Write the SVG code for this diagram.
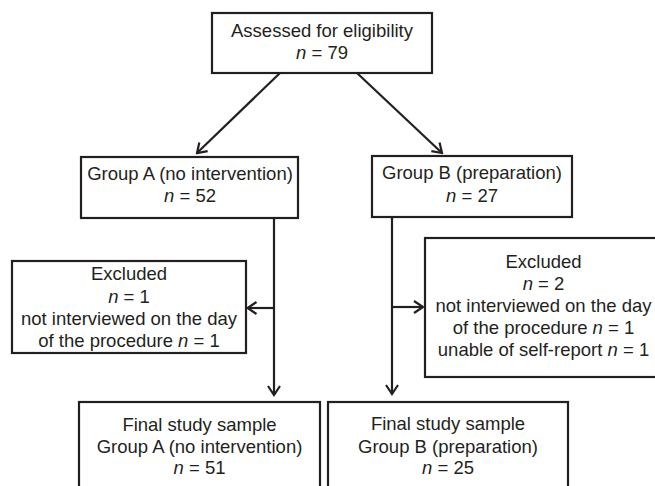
<svg xmlns="http://www.w3.org/2000/svg" width="655" height="486" viewBox="0 0 655 486">
<defs>
<style>
.box{fill:#fff;stroke:#231f20;stroke-width:2.2}
.t{font-family:"Liberation Sans",Arial,sans-serif;font-size:18.5px;fill:#231f20;text-anchor:middle}
.i{font-style:italic}
.c{stroke:#231f20;stroke-width:2.2;fill:none}
</style>
<marker id="ah" viewBox="-11 -8 13 16" refX="0" refY="0" markerWidth="13" markerHeight="16" markerUnits="userSpaceOnUse" orient="auto">
<path d="M-9,-6 L0,0 L-9,6" fill="none" stroke="#231f20" stroke-width="2.2"/>
</marker>
</defs>
<rect width="655" height="486" fill="#fff"/>
<g id="connectors">
<line class="c" x1="280" y1="73" x2="197" y2="153" marker-end="url(#ah)"/>
<line class="c" x1="357" y1="73" x2="442" y2="153" marker-end="url(#ah)"/>
<line class="c" x1="274" y1="218" x2="274" y2="395" marker-end="url(#ah)"/>
<line class="c" x1="274" y1="308" x2="247.5" y2="308" marker-end="url(#ah)"/>
<line class="c" x1="392" y1="217" x2="392" y2="394" marker-end="url(#ah)"/>
<line class="c" x1="392" y1="307" x2="423" y2="307" marker-end="url(#ah)"/>
</g>
<g id="assessed">
<rect class="box" x="212" y="13" width="220" height="60"/>
<text class="t" x="322" y="37">Assessed for eligibility</text>
<text class="t" x="322" y="59"><tspan class="i">n</tspan> = 79</text>
</g>
<g id="groupA">
<rect class="box" x="81" y="157" width="217" height="61"/>
<text class="t" x="190" y="180">Group A (no intervention)</text>
<text class="t" x="190" y="202"><tspan class="i">n</tspan> = 52</text>
</g>
<g id="groupB">
<rect class="box" x="372" y="156" width="200" height="61"/>
<text class="t" x="472" y="179">Group B (preparation)</text>
<text class="t" x="472" y="202"><tspan class="i">n</tspan> = 27</text>
</g>
<g id="excludedA">
<rect class="box" x="12" y="261" width="234" height="92"/>
<text class="t" x="129" y="280">Excluded</text>
<text class="t" x="129" y="303"><tspan class="i">n</tspan> = 1</text>
<text class="t" x="129" y="325">not interviewed on the day</text>
<text class="t" x="129" y="347">of the procedure <tspan class="i">n</tspan> = 1</text>
</g>
<g id="excludedB">
<rect class="box" x="425" y="238" width="245" height="139"/>
<text class="t" x="543.5" y="268">Excluded</text>
<text class="t" x="543.5" y="290"><tspan class="i">n</tspan> = 2</text>
<text class="t" x="543.5" y="312">not interviewed on the day</text>
<text class="t" x="543.5" y="334">of the procedure <tspan class="i">n</tspan> = 1</text>
<text class="t" x="543.5" y="356">unable of self-report <tspan class="i">n</tspan> = 1</text>
</g>
<g id="finalA">
<rect class="box" x="79" y="402" width="241" height="100"/>
<text class="t" x="199.5" y="431">Final study sample</text>
<text class="t" x="199.5" y="453">Group A (no intervention)</text>
<text class="t" x="199.5" y="474"><tspan class="i">n</tspan> = 51</text>
</g>
<g id="finalB">
<rect class="box" x="328" y="402" width="240" height="100"/>
<text class="t" x="448" y="430">Final study sample</text>
<text class="t" x="448" y="453">Group B (preparation)</text>
<text class="t" x="448" y="474"><tspan class="i">n</tspan> = 25</text>
</g>
</svg>
